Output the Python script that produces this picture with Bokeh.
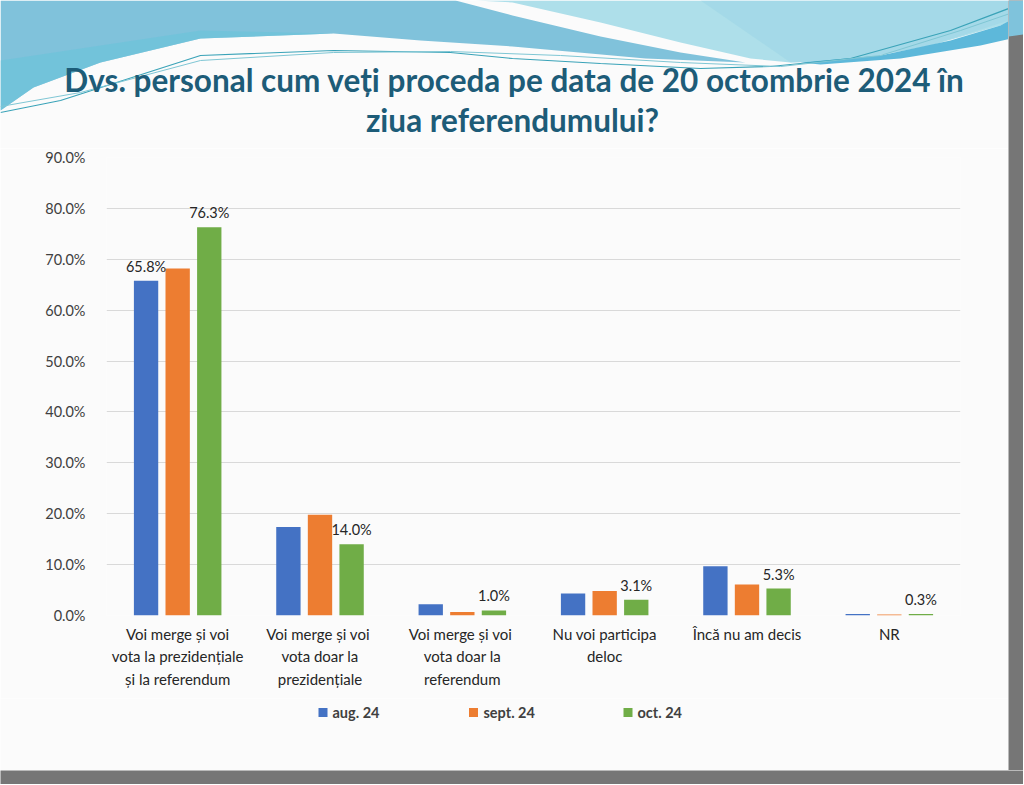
from bokeh.plotting import figure
from bokeh.layouts import column, row
from bokeh.models import (ColumnDataSource, FactorRange, Range1d, FixedTicker,
                          PrintfTickFormatter)
from bokeh.transform import dodge
from bokeh.core.properties import value
from bokeh.embed import file_html
from bokeh.resources import INLINE

# ---------------- data ----------------
title_lines = ["Dvs. personal cum veți proceda pe data de 20 octombrie 2024 în",
               "ziua referendumului?"]
categories = ["Voi merge și voi\nvota la prezidențiale\nși la referendum",
              "Voi  merge și voi\nvota doar la\nprezidențiale",
              "Voi  merge și voi\nvota doar la\nreferendum",
              "Nu voi participa\ndeloc",
              "Încă nu am decis",
              "NR"]
series_names = ["aug. 24", "sept. 24", "oct. 24"]
aug = [65.8, 17.4, 2.2, 4.3, 9.7, 0.3]
sept = [68.2, 19.8, 0.7, 4.8, 6.1, 0.2]
octo = [76.3, 14.0, 1.0, 3.1, 5.3, 0.3]
aug_labelled = [True, False, False, False, False, False]
oct_labelled = [True, True, True, True, True, True]
y_ticks = [0, 10, 20, 30, 40, 50, 60, 70, 80, 90]

colors = ["#4472C4", "#ED7D31", "#70AD47"]
BG = "#FBFBFB"
GRAY = "#767676"
FONT = "Lato"
W = 1008


def deco_fig(height, y0, y1, width=W, bg=BG):
    f = figure(width=width, height=height, x_range=Range1d(0, width), y_range=Range1d(y1, y0),
               output_backend="svg", toolbar_location=None, min_border=0,
               x_axis_location=None, y_axis_location=None,
               background_fill_color=bg, border_fill_color=bg, outline_line_color=None)
    f.grid.visible = False
    return f


# ---------------- header with decorative waves ----------------
h = deco_fig(148, 0, 148)
h.patch([0, 455, 512, 600, 680, 745, 645, 512, 420, 333, 200, 100, 33, 0],
        [0, 0, 15, 36, 52, 62, 58, 46, 40, 33, 38, 62, 87, 110],
        fill_color="#80C2DB", line_color=None)
h.patch([0, 100, 200, 333, 200, 100, 33, 0],
        [60, 45, 30, 33, 38, 62, 87, 110],
        fill_color="#6CC3DA", line_color=None, fill_alpha=0.7)
h.patch([475, 1024, 1024, 1000, 930, 850, 790, 750, 680, 600, 512],
        [0, 0, 15, 25, 45, 60, 62, 58, 42, 22, 2],
        fill_color="#AEDFEA", line_color=None)
h.patch([700, 1024, 1024, 930, 850, 790],
        [0, 0, 15, 45, 60, 62],
        fill_color="#9CD6E6", line_color=None, fill_alpha=0.6)
h.patch([800, 880, 950, 1000, 1024, 1024, 980, 900, 820],
        [62, 55, 40, 25, 12, 35, 45, 58, 64],
        fill_color="#5DB8DA", line_color=None)
h.line([0, 60, 200, 333, 450, 512, 600, 700, 770, 850, 950, 1024],
       [112, 100, 55, 50, 52, 58, 63, 68, 66, 58, 30, 2],
       line_color="#3AA3B8", line_width=1.2)
h.line([0, 80, 200, 333, 450, 560, 680, 780, 880, 960, 1024],
       [106, 92, 60, 52, 51, 55, 62, 66, 55, 30, 8],
       line_color="#7FC6D4", line_width=1)
h.text(x=[514, 512], y=[79, 119], text=title_lines,
       text_font=value(FONT), text_font_style="bold", text_font_size="31.5px",
       text_align="center", text_baseline="middle", text_color="#1D5C78")

# ---------------- chart ----------------
src = ColumnDataSource(dict(cat=categories, aug=aug, sept=sept, octo=octo))

p = figure(width=W, height=550, x_range=FactorRange(factors=categories),
           y_range=Range1d(0, 90), output_backend="svg", toolbar_location=None,
           min_border_left=106, min_border_right=W - 960, min_border_top=9, min_border_bottom=83,
           background_fill_color=BG, border_fill_color=BG, outline_line_color=None)

bw = 0.171
off = 0.222
for col, o, c in zip(["aug", "sept", "octo"], [-off, 0, off], colors):
    p.vbar(x=dodge("cat", o, range=p.x_range), top=col, width=bw, source=src,
           fill_color=c, line_color=None)

lab_aug = ColumnDataSource(dict(
    cat=[c for c, f in zip(categories, aug_labelled) if f],
    v=[v for v, f in zip(aug, aug_labelled) if f],
    t=["%.1f%%" % v for v, f in zip(aug, aug_labelled) if f]))
lab_oct = ColumnDataSource(dict(
    cat=[c for c, f in zip(categories, oct_labelled) if f],
    v=[v for v, f in zip(octo, oct_labelled) if f],
    t=["%.1f%%" % v for v, f in zip(octo, oct_labelled) if f]))
for s, o in [(lab_aug, -off), (lab_oct, off)]:
    p.text(x=dodge("cat", o, range=p.x_range), y="v", text="t", source=s,
           text_font=value(FONT), text_font_size="14.5px", text_color="#262626",
           text_align="center", text_baseline="bottom", y_offset=-6)

p.yaxis.ticker = FixedTicker(ticks=y_ticks)
p.yaxis.formatter = PrintfTickFormatter(format="%.1f%%")
p.yaxis.axis_line_color = None
p.yaxis.major_tick_line_color = None
p.yaxis.minor_tick_line_color = None
p.yaxis.major_label_standoff = 15
p.yaxis.major_label_text_font = FONT
p.yaxis.major_label_text_font_size = "14.5px"
p.yaxis.major_label_text_color = "#404040"

p.xaxis.axis_line_color = None
p.xaxis.major_tick_line_color = None
p.xaxis.minor_tick_line_color = None
p.xaxis.major_label_standoff = 3
p.xaxis.major_label_text_font = FONT
p.xaxis.major_label_text_font_size = "15px"
p.xaxis.major_label_text_color = "#262626"
p.xaxis.major_label_text_line_height = 1.25

p.xgrid.grid_line_color = None
p.ygrid.grid_line_color = "#D9D9D9"
p.ygrid.grid_line_width = 1

# ---------------- footer with the legend ----------------
f = deco_fig(72, 698, 770)
leg = ColumnDataSource(dict(sx=[322.5, 473, 627.5], tx=[332, 483, 637], y=[712, 712, 712],
                            name=series_names, color=colors))
f.scatter(x="sx", y="y", marker="square", size=9, fill_color="color", line_color=None, source=leg)
f.text(x="tx", y="y", text="name", source=leg, text_font=value(FONT), text_font_style="bold",
       text_font_size="14.5px", text_color="#404040", text_align="left", text_baseline="middle")

# ---------------- slide frame: right edge strip and bottom bar ----------------
side = deco_fig(770, 0, 770, width=15, bg=GRAY)
side.patch([0, 15, 15, 0], [0, 0, 34, 36], fill_color="#7FC3DC", line_color=None)
bottom = deco_fig(14, 0, 14, width=W + 15, bg=GRAY)

main = column(row(h), p, row(f), spacing=0)
layout = column(row(main, row(side), spacing=0), row(bottom), spacing=0)
open("out.html", "w").write(file_html(layout, INLINE))
